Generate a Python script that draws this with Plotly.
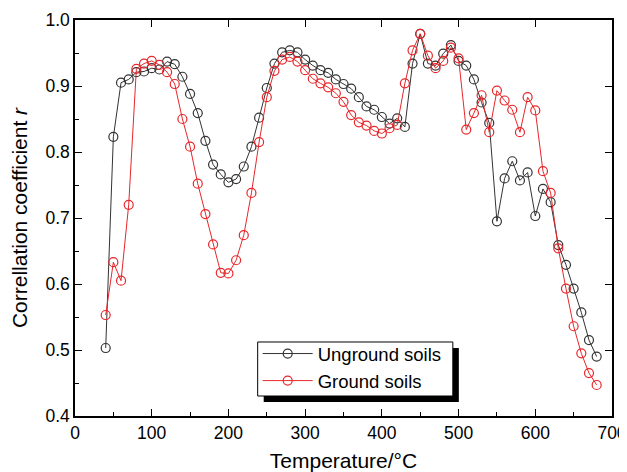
import plotly.graph_objects as go

# temperature steps (deg C)
temps = list(range(40, 690, 10))

unground = [0.503, 0.823, 0.905, 0.910, 0.921, 0.922, 0.927, 0.925, 0.937, 0.933,
            0.914, 0.888, 0.859, 0.817, 0.781, 0.766, 0.754, 0.759, 0.778, 0.808,
            0.852, 0.897, 0.934, 0.951, 0.954, 0.951, 0.940, 0.931, 0.924, 0.920,
            0.910, 0.903, 0.896, 0.883, 0.869, 0.864, 0.853, 0.843, 0.851, 0.838,
            0.934, 0.979, 0.934, 0.931, 0.949, 0.962, 0.938, 0.931, 0.910, 0.875,
            0.844, 0.695, 0.760, 0.786, 0.757, 0.769, 0.703, 0.744, 0.724, 0.659,
            0.629, 0.593, 0.557, 0.515, 0.490]

ground = [0.553, 0.633, 0.605, 0.720, 0.926, 0.934, 0.938, 0.932, 0.921, 0.903,
          0.850, 0.808, 0.752, 0.706, 0.660, 0.617, 0.616, 0.636, 0.674, 0.738,
          0.815, 0.883, 0.923, 0.940, 0.944, 0.937, 0.924, 0.911, 0.904, 0.898,
          0.889, 0.876, 0.856, 0.845, 0.840, 0.832, 0.828, 0.836, 0.841, 0.904,
          0.954, 0.979, 0.946, 0.927, 0.938, 0.958, 0.942, 0.834, 0.859, 0.886,
          0.830, 0.893, 0.878, 0.864, 0.830, 0.883, 0.863, 0.771, 0.738, 0.654,
          0.593, 0.536, 0.495, 0.465, 0.447]

xticks = list(range(0, 701, 100))
yticks = [0.4, 0.5, 0.6, 0.7, 0.8, 0.9, 1.0]

FONT = "Liberation Sans, Arial, sans-serif"
dark = "#333333"
red = "#e8262a"

fig = go.Figure()
fig.add_trace(go.Scatter(x=temps, y=unground, mode="lines+markers", name="Unground soils",
                         line=dict(color=dark, width=1),
                         marker=dict(symbol="circle-open", size=9, color=dark, line=dict(width=1.2))))
fig.add_trace(go.Scatter(x=temps, y=ground, mode="lines+markers", name="Ground soils",
                         line=dict(color=red, width=1),
                         marker=dict(symbol="circle-open", size=9, color=red, line=dict(width=1.2))))
# hidden trace so the top/right tick-only axes get drawn
fig.add_trace(go.Scatter(x=temps, y=unground, xaxis="x2", yaxis="y2", mode="lines",
                         opacity=0, showlegend=False, hoverinfo="skip"))

# legend frame with drop shadow (legend itself is transparent on top)
fig.add_shape(type="rect", xref="paper", yref="paper", x0=0.3514, x1=0.7148, y0=0.0354, y1=0.1717,
              fillcolor="black", line=dict(width=0), layer="above")
fig.add_shape(type="rect", xref="paper", yref="paper", x0=0.3402, x1=0.7036, y0=0.0505, y1=0.1869,
              fillcolor="white", line=dict(color="black", width=1), layer="above")

axis_common = dict(showline=True, linecolor="black", linewidth=1.5, ticks="inside", ticklen=7,
                   tickcolor="black", showgrid=False, zeroline=False, automargin=False)

fig.update_layout(
    width=627, height=472,
    margin=dict(l=67, r=23, t=12, b=64),
    plot_bgcolor="white", paper_bgcolor="white",
    font=dict(family=FONT, size=17.5, color="black"),
    showlegend=True,
    legend=dict(x=0.3402, y=0.2045, xanchor="left", yanchor="top",
                bgcolor="rgba(0,0,0,0)", borderwidth=0,
                font=dict(size=18.5), itemwidth=50, tracegroupgap=0),
    xaxis=dict(range=[0, 700], tickvals=xticks,
               minor=dict(dtick=50, ticks="inside", ticklen=4, tickcolor="black"),
               title=dict(text="Temperature/°C", font=dict(size=21), standoff=12), **axis_common),
    yaxis=dict(range=[0.4, 1.0], tickvals=yticks, tickformat=".1f",
               minor=dict(dtick=0.05, ticks="inside", ticklen=4, tickcolor="black"),
               title=dict(text="Correllation coefficient <i>r</i>", font=dict(size=21), standoff=13),
               **axis_common),
    xaxis2=dict(overlaying="x", side="top", matches="x", range=[0, 700],
                tickvals=xticks, showticklabels=False, **axis_common),
    yaxis2=dict(overlaying="y", side="right", matches="y", range=[0.4, 1.0],
                tickvals=yticks, showticklabels=False, **axis_common),
)

fig.write_html("out.html")
